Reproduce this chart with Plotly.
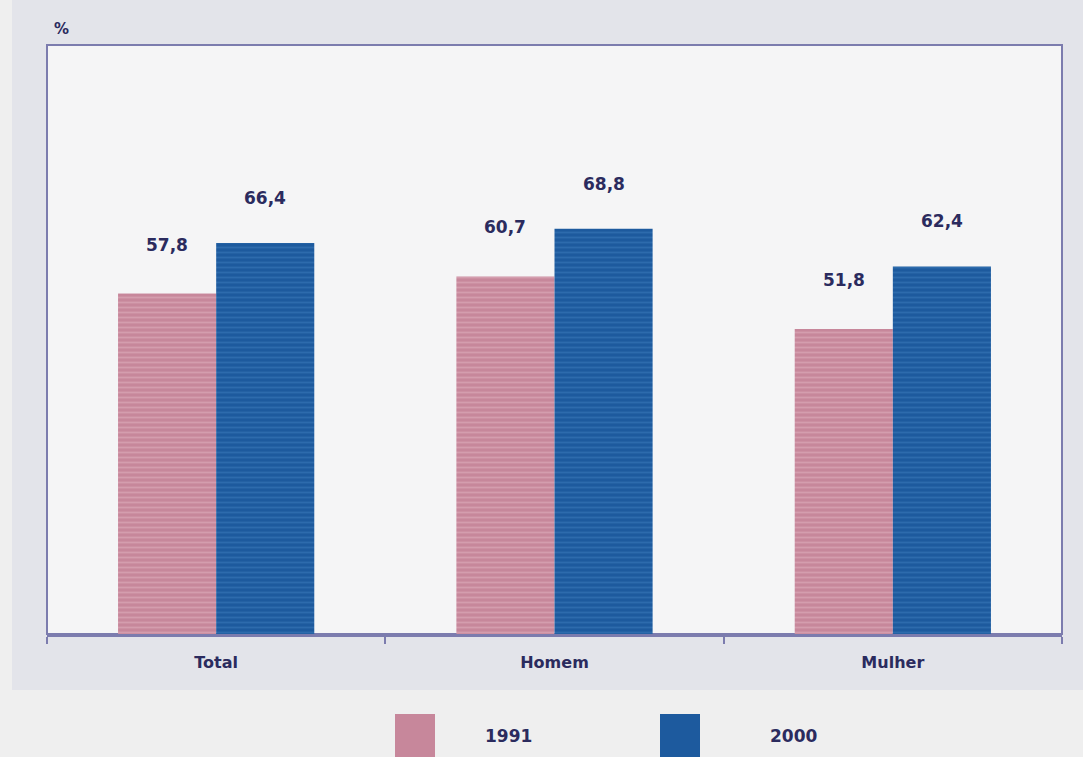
import plotly.graph_objects as go

categorias = ["Total", "Homem", "Mulher"]
anos = ["1991", "2000"]
valores_1991 = [57.8, 60.7, 51.8]
valores_2000 = [66.4, 68.8, 62.4]

cor_1991 = "#c7879b"
cor_1991_lista = "#e2b4c1"
cor_2000 = "#1d5a9e"
cor_2000_lista = "#3d7cbc"
cor_texto = "#2b2b5e"
cor_eixo = "#7c7cae"

W, H = 1083, 757
margem = dict(l=47, r=21, t=45, b=123)
pw = W - margem["l"] - margem["r"]
ph = H - margem["t"] - margem["b"]


def px_x(x):
    return (x - margem["l"]) / pw


def px_y(y):
    return (H - y - margem["b"]) / ph


fig = go.Figure()
series = [
    (anos[0], valores_1991, cor_1991, cor_1991_lista),
    (anos[1], valores_2000, cor_2000, cor_2000_lista),
]
for nome, vals, cor, lista in series:
    fig.add_trace(go.Bar(
        name=nome, x=categorias, y=vals,
        marker=dict(
            color=cor, line=dict(width=0),
            pattern=dict(shape="-", fgcolor=lista, bgcolor=cor, size=5, solidity=0.35),
        ),
        showlegend=False,
    ))

# value labels above each bar (comma decimal separator)
largura = 0.29
for j, (nome, vals, cor, lista) in enumerate(series):
    desloc = -largura / 2 if j == 0 else largura / 2
    for i, v in enumerate(vals):
        fig.add_annotation(
            x=i + desloc, y=v, xref="x", yref="y",
            text=f"{v:.1f}".replace(".", ","),
            showarrow=False, yanchor="middle",
            yshift=49 if j == 0 else 45,
            font=dict(family="DejaVu Sans", size=17, color=cor_texto, weight="bold"),
        )

# unit label
fig.add_annotation(
    x=px_x(61), y=px_y(29), xref="paper", yref="paper", text="%",
    showarrow=False, xanchor="center", yanchor="middle",
    font=dict(family="DejaVu Sans", size=15, color=cor_texto, weight="bold"),
)

# background panel behind the chart frame
fig.add_shape(type="rect", xref="paper", yref="paper", layer="below",
              x0=px_x(12), x1=px_x(W), y0=px_y(690), y1=px_y(0),
              fillcolor="#e3e4ea", line=dict(width=0))
fig.add_shape(type="rect", xref="paper", yref="paper", layer="below",
              x0=0, x1=1, y0=0, y1=1, fillcolor="#f5f5f6",
              line=dict(color=cor_eixo, width=2))

# legend drawn as swatches with labels
for nome, cor, lista, x0, xt in [(anos[0], cor_1991, cor_1991_lista, 395, 508),
                                  (anos[1], cor_2000, cor_2000_lista, 660, 793)]:
    fig.add_shape(type="rect", xref="paper", yref="paper",
                  x0=px_x(x0), x1=px_x(x0 + 40), y0=px_y(H + 4), y1=px_y(714),
                  fillcolor=cor, line=dict(width=0))
    fig.add_annotation(x=px_x(xt), y=px_y(736), xref="paper", yref="paper",
                       text=nome, showarrow=False, xanchor="center", yanchor="middle",
                       font=dict(family="DejaVu Sans", size=17, color=cor_texto, weight="bold"))

fig.update_layout(
    width=W, height=H, margin=margem,
    barmode="group", bargap=0.42, bargroupgap=0,
    paper_bgcolor="#efefef", plot_bgcolor="#f5f5f6",
    xaxis=dict(
        showgrid=False, showline=True, linecolor=cor_eixo, linewidth=3,
        ticks="outside", tickson="boundaries", ticklen=7, tickcolor=cor_eixo, tickwidth=2,
        tickfont=dict(family="DejaVu Sans", size=16, color=cor_texto, weight="bold"),
        ticklabelstandoff=12,
    ),
    yaxis=dict(range=[0, 100], showgrid=False, showticklabels=False, showline=False,
               zeroline=False, ticks=""),
)

fig.write_html("out.html")
